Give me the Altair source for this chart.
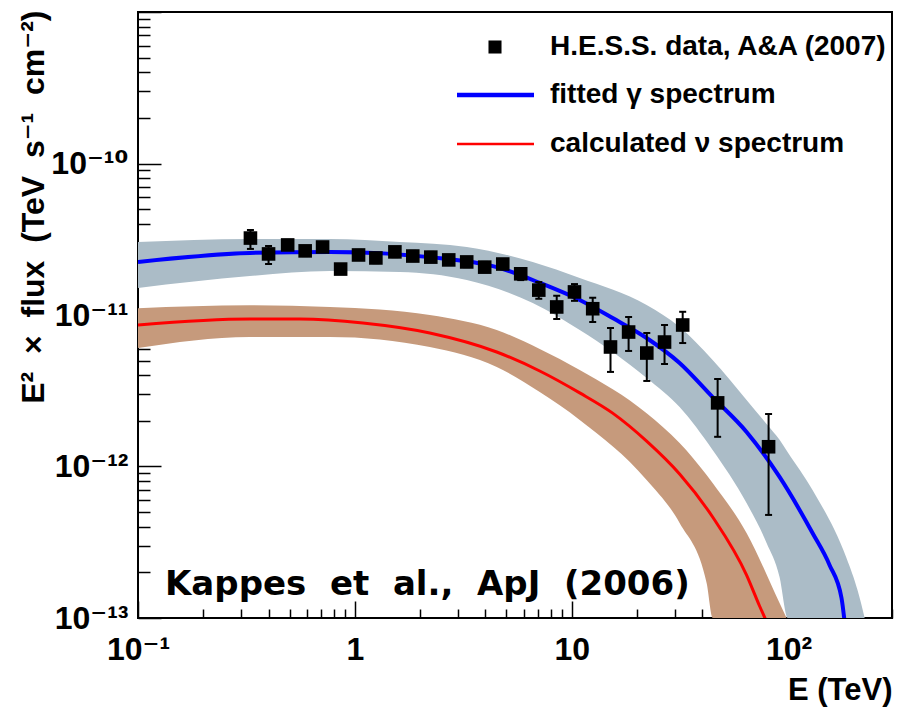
import math
import altair as alt
import pandas as pd

# ---------------- data ----------------
hess_E = [0.33, 0.40, 0.49, 0.59, 0.71, 0.86, 1.04, 1.25, 1.53, 1.85, 2.24, 2.71,
          3.28, 3.97, 4.81, 5.82, 7.05, 8.53, 10.3, 12.5, 15.1, 18.3, 22.2, 26.8,
          32.5, 47.1, 80.9]
hess_flux = [3.22e-11, 2.53e-11, 2.90e-11, 2.65e-11, 2.81e-11, 2.01e-11, 2.49e-11,
             2.38e-11, 2.61e-11, 2.45e-11, 2.41e-11, 2.31e-11, 2.24e-11, 2.07e-11,
             2.17e-11, 1.87e-11, 1.46e-11, 1.13e-11, 1.42e-11, 1.10e-11, 6.15e-12,
             7.72e-12, 5.61e-12, 6.63e-12, 8.59e-12, 2.63e-12, 1.35e-12]
hess_hi = [3.64e-11, 2.85e-11, 3.13e-11, 2.85e-11, 3.03e-11, 2.17e-11, 2.69e-11,
           2.57e-11, 2.81e-11, 2.65e-11, 2.61e-11, 2.49e-11, 2.41e-11, 2.24e-11,
           2.34e-11, 2.04e-11, 1.65e-11, 1.34e-11, 1.60e-11, 1.30e-11, 8.21e-12,
           9.70e-12, 7.61e-12, 8.59e-12, 1.05e-11, 3.78e-12, 2.22e-12]
hess_lo = [2.73e-11, 2.17e-11, 2.69e-11, 2.45e-11, 2.61e-11, 1.87e-11, 2.31e-11,
           2.20e-11, 2.41e-11, 2.27e-11, 2.24e-11, 2.14e-11, 2.07e-11, 1.92e-11,
           2.01e-11, 1.70e-11, 1.28e-11, 9.41e-12, 1.24e-11, 8.99e-12, 4.21e-12,
           5.79e-12, 3.67e-12, 4.75e-12, 6.53e-12, 1.57e-12, 4.79e-13]

gamma_E = [0.1, 0.328, 0.767, 2.216, 4.511, 7.122, 10.89, 15.45, 22.16, 31.45,
           44.66, 64.04, 90.9, 129.0, 154.5, 175.5, 183.1]
gamma_flux = [2.24e-11, 2.57e-11, 2.61e-11, 2.41e-11, 2.07e-11, 1.63e-11, 1.256e-11,
              9.55e-12, 7.05e-12, 4.82e-12, 2.87e-12, 1.69e-12, 8.53e-13, 3.64e-13,
              2.24e-13, 1.355e-13, 8.33e-14]

gband_E = [0.1, 0.328, 0.767, 1.612, 3.282, 6.612, 10.89, 22.16, 31.45, 44.66,
           64.04, 79.2, 90.9, 98.95, 129.0, 185.0, 208.0, 231.2]
gband_hi = [3.03e-11, 3.17e-11, 3.17e-11, 3.03e-11, 2.81e-11, 2.24e-11, 1.755e-11,
            1.164e-11, 8.33e-12, 5.05e-12, 2.75e-12, 1.91e-12, 1.50e-12, 1.246e-12,
            7.00e-13, 2.49e-13, 1.53e-13, 8.33e-14]
gband_lo = [1.51e-11, 1.81e-11, 1.95e-11, 1.92e-11, 1.70e-11, 1.20e-11, 7.96e-12,
            3.84e-12, 2.47e-12, 1.285e-12, 5.74e-13, 3.13e-13, 1.865e-13, 1.0e-13,
            8.0e-14, 8.0e-14, 8.0e-14, 8.0e-14]

nu_E = [0.1, 0.328, 0.558, 1.089, 2.216, 4.511, 7.122, 10.89, 15.45, 22.16, 31.45,
        44.66, 64.04, 73.52, 81.7]
nu_flux = [8.59e-12, 9.41e-12, 9.41e-12, 8.86e-12, 7.61e-12, 5.70e-12, 4.27e-12,
           3.06e-12, 2.25e-12, 1.47e-12, 8.92e-13, 4.64e-13, 1.92e-13, 1.20e-13,
           8.59e-14]

nband_E = [0.1, 0.328, 0.767, 2.216, 4.511, 7.122, 10.89, 22.16, 31.45, 41.90,
           44.66, 64.04, 90.9, 97.9]
nband_hi = [1.11e-11, 1.16e-11, 1.13e-11, 1.0e-11, 7.96e-12, 5.97e-12, 4.34e-12,
            2.25e-12, 1.43e-12, 8.79e-13, 7.78e-13, 3.64e-13, 1.256e-13, 1.0e-13]
nband_lo = [6.06e-12, 7.16e-12, 7.16e-12, 6.15e-12, 4.54e-12, 3.10e-12, 2.03e-12,
            8.15e-13, 4.24e-13, 1.70e-13, 1.0e-13, 1.0e-13, 1.0e-13, 1.0e-13]

series_names = ["H.E.S.S. data, A&A (2007)", "fitted γ spectrum", "calculated ν spectrum"]

x_major = [0.1, 1, 10, 100]
x_major_labels = ["10⁻¹", "1", "10", "10²"]
y_major = [1e-13, 1e-12, 1e-11, 1e-10]
y_major_labels = ["10⁻¹³", "10⁻¹²", "10⁻¹¹", "10⁻¹⁰"]

annotation_text = "Kappes\u00a0 et\u00a0 al.,\u00a0 ApJ\u00a0 (2006)"
x_title = "E (TeV)"
y_title = "E²\u00a0 ×\u00a0 flux\u00a0 (TeV\u00a0 s⁻¹\u00a0 cm⁻²)"

# ---------------- tables ----------------
hess = pd.DataFrame({"E": hess_E, "flux": hess_flux, "hi": hess_hi, "lo": hess_lo})
gamma = pd.DataFrame({"E": gamma_E, "flux": gamma_flux})
nu = pd.DataFrame({"E": nu_E, "flux": nu_flux})
gband = pd.DataFrame({"E": gband_E, "hi": gband_hi, "lo": gband_lo})
nband = pd.DataFrame({"E": nband_E, "hi": nband_hi, "lo": nband_lo})

W, H = 754, 606
FONT = "Liberation Sans, Arial, Helvetica, DejaVu Sans, sans-serif"
BLUE, RED = "#0000ff", "#ff0000"


def label_expr(values, labels):
    expr = "''"
    for v, lab in zip(reversed(values), reversed(labels)):
        e = round(math.log10(v))
        expr = f"round(log(datum.value)/LN10) == {e} ? '{lab}' : " + expr
    return expr


major_test = "abs(log(datum.value)/LN10 - round(log(datum.value)/LN10)) < 0.001"

x_minor = [k * 10.0 ** e for e in range(-1, 3) for k in range(1, 10) if k * 10.0 ** e <= 300]
y_minor = [k * 10.0 ** e for e in range(-13, -9) for k in range(1, 10)] + [1e-9]

xscale = alt.Scale(type="log", domain=[0.1, 300], nice=False)
yscale = alt.Scale(type="log", domain=[1e-13, 1e-9], nice=False)

x_label_axis = alt.Axis(
    values=x_major, labelExpr=label_expr(x_major, x_major_labels), ticks=False,
    domain=False, grid=False, labelFont=FONT, labelFontSize=32, labelFontWeight="bold",
    labelColor="black", labelPadding=16, labelFlush=False, labelOverlap=False,
    title=x_title, titleFont=FONT, titleFontSize=31, titleFontWeight="bold",
    titleColor="black", titleX=W, titleY=81, titleAlign="right",
    titleBaseline="alphabetic", titleAnchor="end")
y_label_axis = alt.Axis(
    values=y_major, labelExpr=label_expr(y_major, y_major_labels), ticks=False,
    domain=False, grid=False, labelFont=FONT, labelFontSize=32, labelFontWeight="bold",
    labelColor="black", labelPadding=10, labelFlush=False, labelOverlap=False,
    labelBaseline="middle",
    title=y_title, titleFont=FONT, titleFontSize=32, titleFontWeight="bold",
    titleColor="black", titleX=-95, titleY=-2, titleAngle=-90, titleAlign="right",
    titleBaseline="alphabetic")

x_tick_axis = alt.Axis(
    orient="top", offset=-H, values=x_minor, labels=False, domain=False, grid=False,
    tickColor="black", tickWidth=1.5,
    tickSize={"condition": {"test": major_test, "value": 17}, "value": 9}, title=None)
y_tick_axis = alt.Axis(
    orient="right", offset=-W, values=y_minor, labels=False, domain=False, grid=False,
    tickColor="black", tickWidth=1.5,
    tickSize={"condition": {"test": major_test, "value": 23}, "value": 12}, title=None)

X = lambda f="E": alt.X(f"{f}:Q", scale=xscale, axis=None)
Y = lambda f: alt.Y(f"{f}:Q", scale=yscale, axis=None)

gray_band = alt.Chart(gband).mark_area(
    color="#abbcc7", clip=True, interpolate="monotone").encode(
    x=alt.X("E:Q", scale=xscale, axis=x_label_axis),
    y=alt.Y("hi:Q", scale=yscale, axis=y_label_axis),
    y2="lo:Q")

brown_band = alt.Chart(nband).mark_area(
    color="#c69a7c", clip=True, interpolate="monotone").encode(
    x=alt.X("E:Q", scale=xscale, axis=x_tick_axis),
    y=alt.Y("hi:Q", scale=yscale, axis=y_tick_axis),
    y2="lo:Q")

gamma_line = alt.Chart(gamma).mark_line(
    strokeWidth=4, clip=True, color=BLUE, interpolate="monotone").encode(
    x=X(), y=Y("flux"))

nu_line = alt.Chart(nu).mark_line(
    strokeWidth=3, clip=True, color=RED, interpolate="monotone").encode(
    x=X(), y=Y("flux"))

err_bars = alt.Chart(hess).mark_rule(color="black", strokeWidth=2).encode(
    x=X(), y=Y("hi"), y2="lo:Q")

err_caps = alt.Chart(hess).transform_fold(["hi", "lo"], as_=["end", "val"]).mark_tick(
    color="black", orient="horizontal", size=7, thickness=2, opacity=1).encode(
    x=X(), y=Y("val"))

points = alt.Chart(hess).mark_square(color="black", size=185, opacity=1).encode(
    x=X(), y=Y("flux"))

note = alt.Chart(pd.DataFrame({"t": [annotation_text]})).mark_text(
    font="DejaVu Sans", fontSize=34, fontWeight="bold", align="left",
    baseline="alphabetic", color="black").encode(
    x=alt.value(27), y=alt.value(583), text="t:N")

# ---------------- legend (drawn in the top-right corner of the frame) ----------------
def legend_label(name, y):
    return alt.Chart(pd.DataFrame({"t": [name]})).mark_text(
        font=FONT, fontSize=28, fontWeight="bold", align="left", baseline="middle",
        color="black").encode(x=alt.value(412), y=alt.value(y), text="t:N")


leg_square = alt.Chart(pd.DataFrame({"t": [series_names[0]]})).mark_square(
    color="black", size=170, opacity=1).encode(x=alt.value(357), y=alt.value(35))
leg_blue = alt.Chart(pd.DataFrame({"t": [series_names[1]]})).mark_rule(
    color=BLUE, strokeWidth=4.5).encode(x=alt.value(319), x2=alt.value(396), y=alt.value(83))
leg_red = alt.Chart(pd.DataFrame({"t": [series_names[2]]})).mark_rule(
    color=RED, strokeWidth=2.7).encode(x=alt.value(319), x2=alt.value(396), y=alt.value(132))

chart = alt.layer(
    gray_band, brown_band, gamma_line, nu_line, err_bars, err_caps, points, note,
    leg_square, leg_blue, leg_red,
    legend_label(series_names[0], 35), legend_label(series_names[1], 83),
    legend_label(series_names[2], 132),
).resolve_axis(x="independent", y="independent").properties(
    width=W, height=H,
    autosize=alt.AutoSizeParams(type="none"),
    padding={"left": 138, "top": 12, "right": 21, "bottom": 92},
    background="white",
).configure_view(stroke="black", strokeWidth=2)

chart.save("out.html", embed_options={"renderer": "svg", "actions": False})
